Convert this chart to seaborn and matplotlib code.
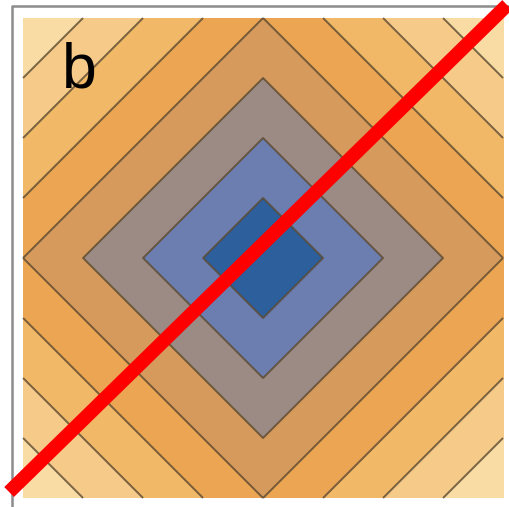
import numpy as np
import pandas as pd
import matplotlib
matplotlib.use("Agg")
import matplotlib.pyplot as plt
from matplotlib.colors import ListedColormap, BoundaryNorm
import seaborn as sns

sns.set_style("white")
plt.rcParams["font.family"] = ["Liberation Sans", "DejaVu Sans"]

# Contour levels of the L1 norm |x| + |y| and the fill colour of each band
levels = [0.0, 0.25, 0.5, 0.75, 1.0, 1.25, 1.5, 1.75, 2.0]
band_colors = ["#2c5f9b", "#6b7eaf", "#9b8b84", "#d69b5c",
               "#eba553", "#f1b867", "#f6ca88", "#f9dca4"]

# Straight line drawn across the panel
line_x = [-1.058, 1.017]
line_y = [-0.975, 1.054]

panel_label = "b"

fig = plt.figure(figsize=(5.10, 5.07), dpi=100)
ax = fig.add_axes([0, 0, 1, 1])

# Frame around the panel
ax.plot([-1.046, -1.046, 1.2], [-1.2, 1.05, 1.05], color="#8c8c8c", lw=1.8,
        solid_capstyle="butt", zorder=0)

# Filled contours of |x| + |y|
g = np.linspace(-1.0, 1.0, 801)
X, Y = np.meshgrid(g, g)
Z = np.abs(X) + np.abs(Y)
cmap = ListedColormap(band_colors)
norm = BoundaryNorm(levels, cmap.N)
ax.contourf(X, Y, Z, levels=levels, cmap=cmap, norm=norm, zorder=1)
ax.contour(X, Y, Z, levels=levels[1:-1], colors="#5a4830", linewidths=1.4,
           alpha=0.8, zorder=2)

# Red diagonal line
df = pd.DataFrame({"x": line_x, "y": line_y})
sns.lineplot(data=df, x="x", y="y", color="#ff0000", lw=10.0, ax=ax,
             sort=False, zorder=3)
ax.get_lines()[-1].set_solid_capstyle("butt")

ax.set_xlim(-1.096, 1.029)
ax.set_ylim(-1.0375, 1.075)
ax.set_axis_off()

ax.text(-0.765, 0.78, panel_label, fontsize=45, color="black",
        ha="center", va="center", zorder=4)

fig.savefig("out.png", dpi=100)
